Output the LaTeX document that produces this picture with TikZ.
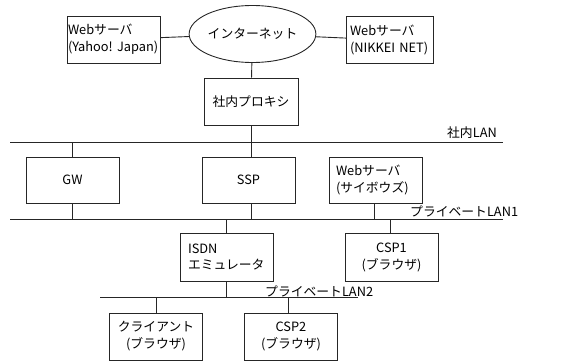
\documentclass[tikz,border=0pt]{standalone}
\usepackage{fontspec}
\setmainfont{Noto Sans CJK JP}
\usetikzlibrary{shapes.geometric}
\begin{document}
\begin{tikzpicture}[x=1pt,y=-1pt,
  every node/.style={font=\fontsize{12.8pt}{17pt}\selectfont, text=black},
  box/.style={draw=black!85, line width=0.9pt, minimum width=93pt, minimum height=47pt, inner sep=0pt, align=center},
  lbox/.style={box, align=left, text width=#1},
  wire/.style={draw=black!85, line width=0.9pt},
  lanlabel/.style={inner sep=0pt}
]
\useasboundingbox (0,0) rectangle (561,362);
% top row
\node[box, ellipse, minimum width=99pt, minimum height=57pt] (inet) at (252.5,34) {インターネット};
\node[lbox=91pt] (yahoo) at (113.5,39.5) {Webサーバ\\(Yahoo!~Japan)};
\node[lbox=80pt, minimum width=87pt] (nikkei) at (390,40) {Webサーバ\\(NIKKEI~NET)};
\node[box, minimum width=94pt] (proxy) at (251,101.5) {社内プロキシ};
\draw[wire] (yahoo) -- (inet);
\draw[wire] (inet) -- (nikkei);
\draw[wire] (inet) -- (proxy);
% corporate LAN
\coordinate (lan0L) at (10,142);
\coordinate (lan0R) at (503,142);
\draw[wire] (lan0L) -- (lan0R);
\node[lanlabel, anchor=east] (lan0t) at (497,133) {社内LAN};
\draw[wire] (proxy.south) -- (proxy.south |- lan0L);
% row 2
\node[box, minimum height=46pt] (gw) at (72.5,180) {GW};
\node[box, minimum height=46pt] (ssp) at (248.5,180) {SSP};
\node[lbox=80pt, minimum height=46pt] (cyb) at (376,180) {Webサーバ\\(サイボウズ)};
\draw[wire] (gw.north) -- (gw.north |- lan0L);
\draw[wire] ([xshift=3pt]ssp.north) -- ([xshift=3pt]ssp.north |- lan0L);
% private LAN1
\coordinate (lan1L) at (10,219);
\coordinate (lan1R) at (503,219);
\draw[wire] (lan1L) -- (lan1R);
\node[lanlabel, anchor=west] (lan1t) at (410,211) {プライベートLAN1};
\draw[wire] (gw.south) -- (gw.south |- lan1L);
\draw[wire] ([xshift=3pt]ssp.south) -- ([xshift=3pt]ssp.south |- lan1L);
\draw[wire] ([xshift=-2pt]cyb.south) -- ([xshift=-2pt]cyb.south |- lan1L);
% row 3
\node[lbox=78pt, minimum height=48pt] (isdn) at (227,257) {ISDN\\エミュレータ};
\node[box, minimum height=48pt] (csp1) at (391.5,257) {CSP1\\(ブラウザ)};
\draw[wire] ([xshift=-1pt]isdn.north) -- ([xshift=-1pt]isdn.north |- lan1L);
\draw[wire] ([xshift=-1.5pt]csp1.north) -- ([xshift=-1.5pt]csp1.north |- lan1L);
% private LAN2
\coordinate (lan2L) at (100,297);
\coordinate (lan2R) at (358,297);
\draw[wire] (lan2L) -- (lan2R);
\node[lanlabel, anchor=west] (lan2t) at (265,291) {プライベートLAN2};
\draw[wire] ([xshift=-1pt]isdn.south) -- ([xshift=-1pt]isdn.south |- lan2L);
% row 4
\node[box] (client) at (156,336.5) {クライアント\\(ブラウザ)};
\node[box] (csp2) at (291,336.5) {CSP2\\(ブラウザ)};
\draw[wire] (client.north) -- (client.north |- lan2L);
\draw[wire] ([xshift=-3pt]csp2.north) -- ([xshift=-3pt]csp2.north |- lan2L);
\end{tikzpicture}
\end{document}
